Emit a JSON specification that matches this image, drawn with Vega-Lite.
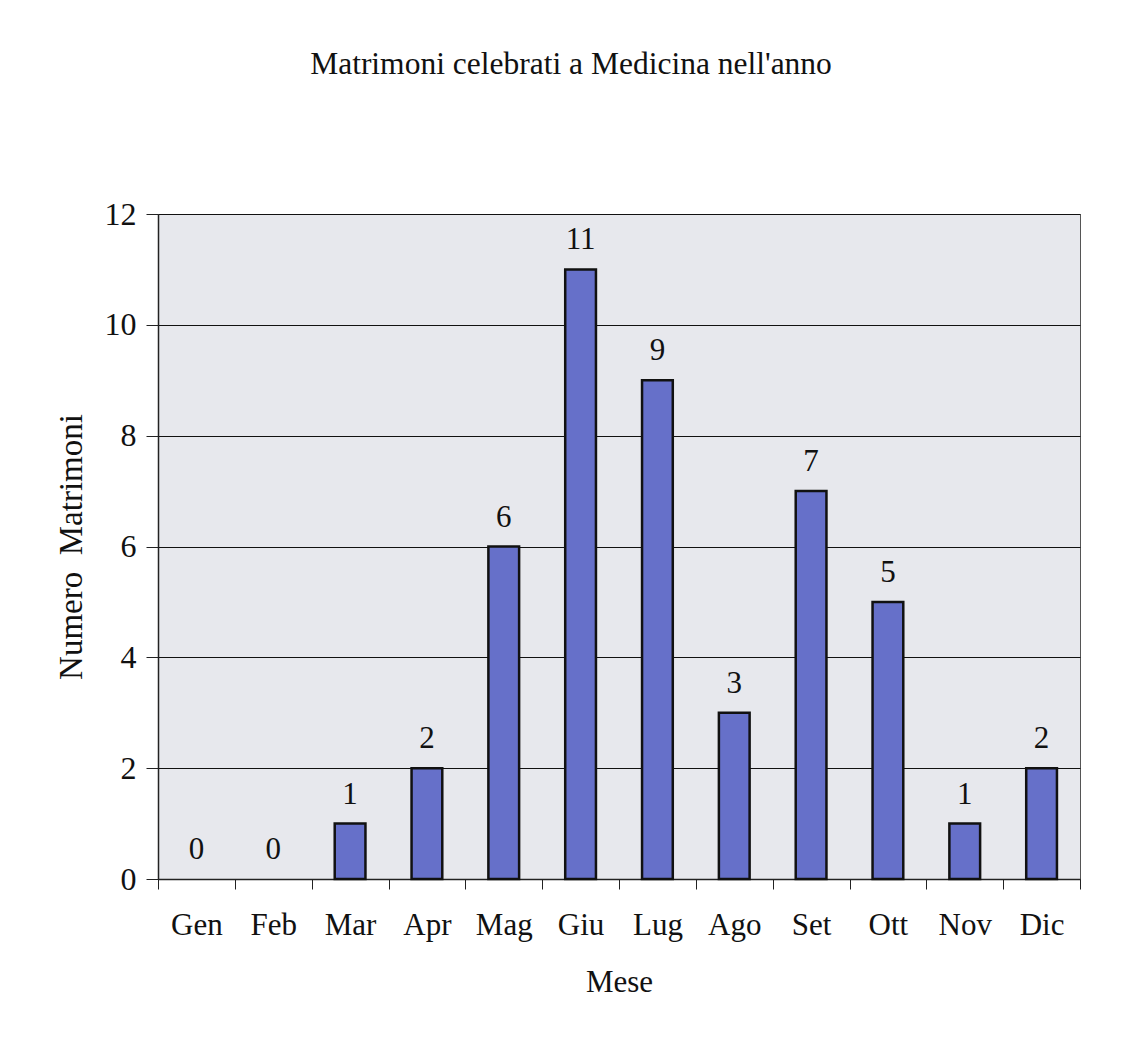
{
  "$schema": "https://vega.github.io/schema/vega-lite/v6.json",
  "autosize": {"type": "none"},
  "width": 922,
  "height": 665,
  "padding": {"left": 158, "top": 214, "right": 43, "bottom": 178},
  "background": "white",
  "title": {
    "text": "Matrimoni celebrati a Medicina nell'anno",
    "font": "Liberation Serif",
    "fontSize": 31.5,
    "fontWeight": "normal",
    "color": "#111",
    "anchor": "middle",
    "dx": -48,
    "offset": 118
  },
  "data": {
    "values": [
      {"mese": "Gen", "n": 0},
      {"mese": "Feb", "n": 0},
      {"mese": "Mar", "n": 1},
      {"mese": "Apr", "n": 2},
      {"mese": "Mag", "n": 6},
      {"mese": "Giu", "n": 11},
      {"mese": "Lug", "n": 9},
      {"mese": "Ago", "n": 3},
      {"mese": "Set", "n": 7},
      {"mese": "Ott", "n": 5},
      {"mese": "Nov", "n": 1},
      {"mese": "Dic", "n": 2}
    ]
  },
  "encoding": {
    "x": {
      "field": "mese",
      "type": "nominal",
      "sort": ["Gen", "Feb", "Mar", "Apr", "Mag", "Giu", "Lug", "Ago", "Set", "Ott", "Nov", "Dic"],
      "scale": {"domain": ["Gen", "Feb", "Mar", "Apr", "Mag", "Giu", "Lug", "Ago", "Set", "Ott", "Nov", "Dic"], "paddingInner": 0, "paddingOuter": 0},
      "axis": {
        "title": "Mese",
        "labelAngle": 0,
        "tickBand": "extent",
        "tickSize": 10,
        "tickColor": "#222",
        "domainColor": "#222",
        "domainWidth": 1.5,
        "labelFont": "Liberation Serif",
        "labelFontSize": 31,
        "labelColor": "#111",
        "labelPadding": 21,
        "titleFont": "Liberation Serif",
        "titleFontSize": 31,
        "titleFontWeight": "normal",
        "titleColor": "#111",
        "titlePadding": 27
      }
    },
    "y": {
      "field": "n",
      "type": "quantitative",
      "scale": {"domain": [0, 12]},
      "axis": {
        "title": "Numero\u00a0 Matrimoni",
        "values": [0, 2, 4, 6, 8, 10, 12],
        "tickSize": 12,
        "tickColor": "#222",
        "domainColor": "#222",
        "domainWidth": 1.5,
        "grid": true,
        "gridColor": "#111",
        "gridWidth": 1,
        "labelFont": "Liberation Serif",
        "labelFontSize": 32,
        "labelColor": "#111",
        "labelPadding": 10,
        "titleFont": "Liberation Serif",
        "titleFontSize": 33,
        "titleFontWeight": "normal",
        "titleColor": "#111",
        "titlePadding": 16
      }
    }
  },
  "layer": [
    {
      "transform": [{"filter": "datum.n > 0"}],
      "mark": {"type": "bar", "width": {"band": 0.4}, "color": "#6670C9", "stroke": "#111", "strokeWidth": 2.5}
    },
    {
      "mark": {
        "type": "text",
        "font": "Liberation Serif",
        "fontSize": 31,
        "color": "#111",
        "baseline": "bottom",
        "dy": -13
      },
      "encoding": {"text": {"field": "n", "type": "quantitative"}}
    }
  ],
  "config": {
    "view": {"fill": "#E7E8ED", "stroke": "#555", "strokeWidth": 1}
  }
}
